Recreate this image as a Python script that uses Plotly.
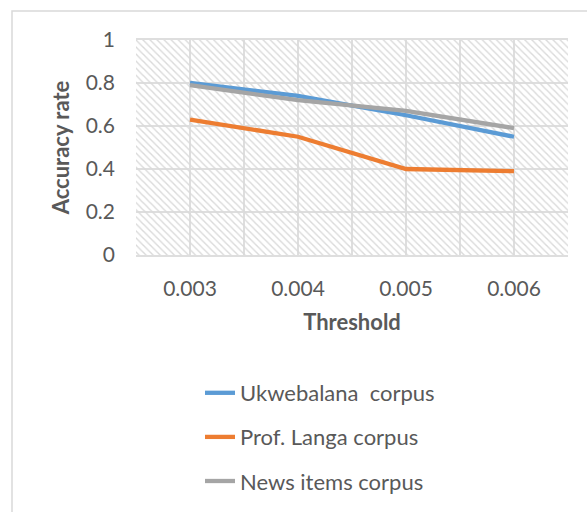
import plotly.graph_objects as go

categories = ["0.003", "0.004", "0.005", "0.006"]
ukwebalana = [0.80, 0.74, 0.65, 0.55]
langa = [0.63, 0.55, 0.40, 0.39]
news = [0.79, 0.72, 0.67, 0.59]
y_ticks = [0, 0.2, 0.4, 0.6, 0.8, 1]

series = [
    ("Ukwebalana\u00a0 corpus", ukwebalana, "#5B9BD5"),
    ("Prof. Langa corpus", langa, "#ED7D31"),
    ("News items corpus", news, "#A5A5A5"),
]

xi = list(range(len(categories)))
W, H = 587, 512
L, R, T, B = 136, 19, 40, 257
pw, ph = W - L - R, H - T - B

fig = go.Figure()
# hatched plot background
fig.add_trace(go.Bar(
    x=xi, y=[max(y_ticks)] * len(xi), width=1,
    marker=dict(color="rgba(0,0,0,0)", line=dict(width=0),
                pattern=dict(shape="\\", fgcolor="#dadada", bgcolor="rgba(0,0,0,0)",
                             size=5, solidity=0.28, fillmode="replace")),
    showlegend=False, hoverinfo="skip",
))
for i, (name, vals, col) in enumerate(series):
    fig.add_trace(go.Scatter(
        x=xi, y=vals, mode="lines", name=name, legendgroup=str(i),
        line=dict(color=col, width=4.3),
    ))

fig.update_layout(
    width=W, height=H,
    margin=dict(l=L, r=R, t=T, b=B, autoexpand=False),
    paper_bgcolor="white", plot_bgcolor="white",
    font=dict(family="Lato", color="#595959", size=21),
    bargap=0,
    legend=dict(
        x=(200 - L) / pw, xanchor="left",
        y=(T + ph - 372) / ph, yanchor="top",
        font=dict(size=22, color="#595959"),
        tracegroupgap=12.5, bgcolor="rgba(0,0,0,0)",
    ),
    xaxis=dict(
        range=[-0.5, len(categories) - 0.5],
        tickvals=xi, ticktext=categories,
        showgrid=True, gridcolor="#dedede", gridwidth=2,
        minor=dict(tick0=-0.5, dtick=1, showgrid=True, gridcolor="#dedede", gridwidth=2),
        zeroline=False, showline=True, linecolor="#dedede", linewidth=2, mirror=True,
        ticks="", ticklabelstandoff=14,
        title=dict(text="<b>Threshold</b>", font=dict(size=22, color="#595959"), standoff=15),
        fixedrange=True,
    ),
    yaxis=dict(
        range=[0, 1], tickvals=y_ticks,
        showgrid=True, gridcolor="#dedede", gridwidth=2,
        zeroline=False, showline=False,
        ticks="", ticklabelstandoff=20,
        title=dict(text="<b>Accuracy rate</b>", font=dict(size=22, color="#595959"), standoff=9),
        fixedrange=True,
    ),
    shapes=[dict(type="rect", xref="paper", yref="paper",
                 x0=(12 - L) / pw, x1=1.2, y0=-2, y1=(T + ph - 11) / ph,
                 line=dict(color="#d9d9d9", width=1.5), layer="below")],
)

fig.write_html("out.html")
